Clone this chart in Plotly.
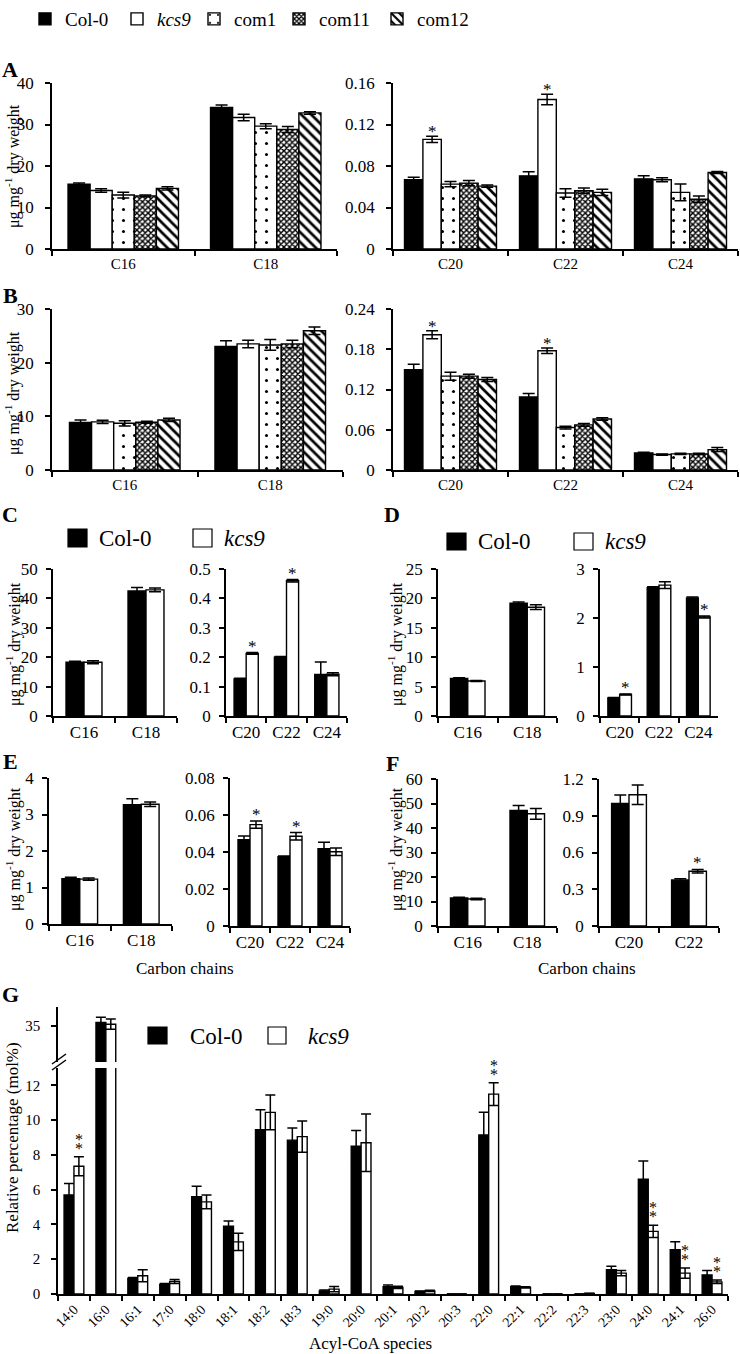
import plotly.graph_objects as go

W, H = 740, 1354
SERIF = "Liberation Serif"

GENO5 = ["Col-0", "<i>kcs9</i>", "com1", "com11", "com12"]
GENO2 = ["Col-0", "<i>kcs9</i>"]

# ---------------- data ----------------
# Panel A
A1_cats = ["C16", "C18"]
A1_mean = [[15.6, 34.1], [14.1, 31.7], [13.0, 29.6], [12.8, 28.8], [14.6, 32.8]]
A1_err = [[0.3, 0.6], [0.4, 0.8], [0.7, 0.6], [0.2, 0.7], [0.4, 0.3]]
A2_cats = ["C20", "C22", "C24"]
A2_mean = [[0.0667, 0.0705, 0.0676], [0.1057, 0.1441, 0.0667], [0.0625, 0.054, 0.0546],
           [0.0635, 0.0562, 0.048], [0.0606, 0.0546, 0.0737]]
A2_err = [[0.0025, 0.004, 0.003], [0.003, 0.005, 0.002], [0.0025, 0.004, 0.008],
          [0.0025, 0.0025, 0.003], [0.001, 0.003, 0.001]]
A2_sig = ["C20", "C22"]

# Panel B
B1_cats = ["C16", "C18"]
B1_mean = [[8.84, 23.0], [8.96, 23.5], [8.7, 23.3], [8.9, 23.5], [9.33, 25.95]]
B1_err = [[0.5, 1.1], [0.3, 0.7], [0.5, 1.0], [0.2, 0.7], [0.3, 0.7]]
B2_cats = ["C20", "C22", "C24"]
B2_mean = [[0.1497, 0.109, 0.0255], [0.2017, 0.1777, 0.023], [0.1399, 0.0633, 0.024],
           [0.1399, 0.0672, 0.024], [0.135, 0.076, 0.0304]]
B2_err = [[0.008, 0.005, 0.001], [0.006, 0.004, 0.001], [0.006, 0.002, 0.001],
          [0.003, 0.002, 0.001], [0.003, 0.002, 0.003]]
B2_sig = ["C20", "C22"]

# Panel C
C1_cats = ["C16", "C18"]
C1_mean = [[18.3, 42.5], [18.3, 42.9]]
C1_err = [[0.3, 1.2], [0.5, 0.6]]
C2_cats = ["C20", "C22", "C24"]
C2_mean = [[0.126, 0.2, 0.141], [0.213, 0.46, 0.142]]
C2_err = [[0.002, 0.002, 0.043], [0.003, 0.004, 0.005]]
C2_sig = ["C20", "C22"]

# Panel D
D1_cats = ["C16", "C18"]
D1_mean = [[6.4, 19.2], [5.95, 18.5]]
D1_err = [[0.1, 0.2], [0.1, 0.4]]
D2_cats = ["C20", "C22", "C24"]
D2_mean = [[0.37, 2.62, 2.41], [0.44, 2.67, 2.02]]
D2_err = [[0.01, 0.02, 0.02], [0.01, 0.07, 0.02]]
D2_sig = ["C20", "C24"]

# Panel E
E1_cats = ["C16", "C18"]
E1_mean = [[1.24, 3.27], [1.23, 3.28]]
E1_err = [[0.04, 0.16], [0.03, 0.06]]
E2_cats = ["C20", "C22", "C24"]
E2_mean = [[0.0467, 0.0375, 0.0418], [0.0548, 0.0485, 0.0401]]
E2_err = [[0.002, 0.0003, 0.0035], [0.002, 0.002, 0.002]]
E2_sig = ["C20", "C22"]

# Panel F
F1_cats = ["C16", "C18"]
F1_mean = [[11.4, 47.2], [11.0, 45.8]]
F1_err = [[0.3, 2.0], [0.3, 2.2]]
F2_cats = ["C20", "C22"]
F2_mean = [[1.0, 0.375], [1.072, 0.447]]
F2_err = [[0.07, 0.01], [0.08, 0.015]]
F2_sig = ["C22"]

# Panel G
G_cats = ["14:0", "16:0", "16:1", "17:0", "18:0", "18:1", "18:2", "18:3", "19:0", "20:0",
          "20:1", "20:2", "20:3", "22:0", "22:1", "22:2", "22:3", "23:0", "24:0", "24:1", "26:0"]
G_col0 = [5.7, 35.2, 0.9, 0.55, 5.6, 3.9, 9.45, 8.85, 0.18, 8.5,
          0.42, 0.14, 0.0, 9.15, 0.42, 0.0, 0.0, 1.4, 6.6, 2.55, 1.1]
G_col0_err = [0.65, 0.3, 0.05, 0.05, 0.6, 0.3, 1.15, 0.7, 0.05, 0.9,
              0.1, 0.03, 0.0, 1.3, 0.04, 0.0, 0.0, 0.2, 1.05, 0.45, 0.25]
G_kcs9 = [7.35, 35.1, 1.05, 0.72, 5.3, 3.0, 10.45, 9.05, 0.28, 8.7,
          0.38, 0.18, 0.0, 11.5, 0.38, 0.0, 0.03, 1.2, 3.6, 1.2, 0.7]
G_kcs9_err = [0.55, 0.3, 0.35, 0.12, 0.4, 0.5, 1.0, 0.9, 0.15, 1.65,
              0.06, 0.03, 0.0, 0.65, 0.03, 0.0, 0.01, 0.15, 0.35, 0.3, 0.1]
G_sig = ["14:0", "22:0", "24:0", "24:1", "26:0"]

# ---------------- styles ----------------
LINE = dict(color="black", width=1.4)
STYLES = [
    dict(color="black", line=LINE),
    dict(color="white", line=LINE),
    dict(color="white", line=LINE, pattern=dict(shape=".", size=11, solidity=0.06,
                                                fgcolor="black", bgcolor="white")),
    dict(color="white", line=LINE, pattern=dict(shape="x", size=4, solidity=0.6,
                                                fgcolor="black", bgcolor="white")),
    dict(color="white", line=LINE, pattern=dict(shape="\\", size=7, solidity=0.38,
                                                fgcolor="black", bgcolor="white")),
]

fig = go.Figure()
lay = dict(template="none", width=W, height=H, margin=dict(l=0, r=0, t=0, b=0, pad=0),
           paper_bgcolor="white", plot_bgcolor="white",
           font=dict(family=SERIF, color="black", size=15),
           barmode="overlay", showlegend=True)
annots = []
shapes = []
ax_n = [0]


def px_x(x):
    return x / W


def px_y(y):
    return 1 - y / H


def make_axes(xpx, ypx, cats, yrange, dtick, tickfont, catfont, standoff, catangle=0,
              tickvals=None):
    ax_n[0] += 1
    s = "" if ax_n[0] == 1 else str(ax_n[0])
    xr, yr = "x" + s, "y" + s
    lay["xaxis" + s] = dict(domain=[px_x(xpx[0]), px_x(xpx[1])], anchor=yr, type="category",
                            categoryorder="array", categoryarray=cats,
                            range=[-0.5, len(cats) - 0.5], tickson="boundaries",
                            ticks="outside", ticklen=5, tickwidth=1.5, tickcolor="black",
                            showline=True, linewidth=1.5, linecolor="black", showgrid=False,
                            zeroline=False, tickfont=dict(size=catfont), tickangle=catangle,
                            fixedrange=True, automargin=False)
    yd = dict(domain=[px_y(ypx[1]), px_y(ypx[0])], anchor=xr, range=yrange, ticks="outside",
              ticklen=5, tickwidth=1.5, tickcolor="black", showline=True, linewidth=1.5,
              linecolor="black", showgrid=False, zeroline=False, tickfont=dict(size=tickfont),
              ticklabelstandoff=standoff, fixedrange=True, automargin=False)
    if tickvals is not None:
        yd["tickvals"] = tickvals
    else:
        yd.update(tick0=0, dtick=dtick)
    lay["yaxis" + s] = yd
    return xr, yr


def add_bars(xr, yr, cats, means, errs, names, w, capw, legends=None):
    n = len(means)
    for k in range(n):
        tr = go.Bar(x=cats, y=means[k], width=w, offset=-n * w / 2 + k * w,
                    xaxis=xr, yaxis=yr, name=names[k], marker=STYLES[k],
                    error_y=dict(type="data", array=errs[k], color="black",
                                 thickness=1.5, width=capw),
                    showlegend=False, hoverinfo="skip")
        if legends is not None:
            tr.showlegend = True
            tr.legend = legends[k]
        fig.add_trace(tr)


def add_sig(xr, yr, cats, means, errs, w, sig, size=17, shifts=(-7,)):
    n = len(means)
    for c in sig:
        i = cats.index(c)
        for sh in shifts:
            annots.append(dict(x=i - n * w / 2 + 1.5 * w, y=means[1][i] + errs[1][i], xref=xr,
                               yref=yr, text="*", showarrow=False, yanchor="bottom",
                               xanchor="center", font=dict(size=size, color="black"),
                               yshift=sh))


def ytitle(x, y, text, size=16):
    annots.append(dict(x=px_x(x), y=px_y(y), xref="paper", yref="paper", text=text,
                       textangle=-90, showarrow=False, font=dict(size=size, color="black"),
                       xanchor="center", yanchor="middle"))


def label(x, y, text, size=16, bold=False, xanchor="center"):
    annots.append(dict(x=px_x(x), y=px_y(y), xref="paper", yref="paper",
                       text=("<b>%s</b>" % text) if bold else text, showarrow=False,
                       font=dict(size=size, color="black"), xanchor=xanchor,
                       yanchor="middle"))


def square(x0, y0, x1, y1, fill):
    shapes.append(dict(type="rect", xref="paper", yref="paper", x0=px_x(x0), x1=px_x(x1),
                       y0=px_y(y1), y1=px_y(y0), fillcolor=fill,
                       line=dict(color="black", width=1.2)))


UNIT = "μg mg<sup>-1</sup> dry weight"

# ---------------- Panel A ----------------
xr, yr = make_axes((52, 337), (83, 249), A1_cats, [0, 40], 10, 17, 15, 8)
add_bars(xr, yr, A1_cats, A1_mean, A1_err, GENO5, 0.155, 6,
         legends=["legend", "legend2", "legend3", "legend4", "legend5"])
xr, yr = make_axes((393, 738), (83, 249), A2_cats, [0, 0.16], 0.04, 17, 15, 8)
add_bars(xr, yr, A2_cats, A2_mean, A2_err, GENO5, 0.16, 6)
add_sig(xr, yr, A2_cats, A2_mean, A2_err, 0.16, A2_sig)

# ---------------- Panel B ----------------
xr, yr = make_axes((52, 343), (309, 470), B1_cats, [0, 30], 10, 17, 15, 8)
add_bars(xr, yr, B1_cats, B1_mean, B1_err, GENO5, 0.152, 6)
xr, yr = make_axes((393, 738), (309, 470), B2_cats, [0, 0.24], 0.06, 17, 15, 8)
add_bars(xr, yr, B2_cats, B2_mean, B2_err, GENO5, 0.16, 6)
add_sig(xr, yr, B2_cats, B2_mean, B2_err, 0.16, B2_sig)

# ---------------- Panels C-F ----------------
small = [
    ((53, 177), (569, 716), C1_cats, C1_mean, C1_err, [0, 50], 10, None),
    ((226, 347), (569, 716), C2_cats, C2_mean, C2_err, [0, 0.5], 0.1, C2_sig),
    ((438, 557), (569, 716), D1_cats, D1_mean, D1_err, [0, 25], 5, None),
    ((600, 718), (569, 716), D2_cats, D2_mean, D2_err, [0, 3], 1, D2_sig),
    ((49, 172), (778, 924), E1_cats, E1_mean, E1_err, [0, 4], 1, None),
    ((230, 350), (778, 926), E2_cats, E2_mean, E2_err, [0, 0.08], 0.02, E2_sig),
    ((438, 557), (779, 926), F1_cats, F1_mean, F1_err, [0, 60], 10, None),
    ((599, 719), (779, 926), F2_cats, F2_mean, F2_err, [0, 1.2], 0.3, F2_sig),
]
for xpx, ypx, cats, means, errs, yrange, dt, sig in small:
    xr, yr = make_axes(xpx, ypx, cats, yrange, dt, 17, 17, 5)
    w = 0.3 if len(cats) == 3 else 0.29
    add_bars(xr, yr, cats, means, errs, GENO2, w, 6)
    if sig:
        add_sig(xr, yr, cats, means, errs, w, sig, shifts=(-5,))

# ---------------- Panel G ----------------
G_mean = [G_col0, G_kcs9]
G_err = [G_col0_err, G_kcs9_err]
xg, yg = make_axes((58, 728), (1068, 1294), G_cats, [0, 13], 2, 15, 14, 8, catangle=-45,
                   tickvals=[0, 2, 4, 6, 8, 10, 12])
add_bars(xg, yg, G_cats, G_mean, G_err, GENO2, 0.31, 5)
add_sig(xg, yg, G_cats, G_mean, G_err, 0.31, G_sig, size=16, shifts=(-2, 7))
ax_n[0] += 1
s = str(ax_n[0])
lay["yaxis" + s] = dict(domain=[px_y(1062), px_y(1007)], anchor=xg, range=[32.9, 36.1],
                        tickvals=[35], ticks="outside", ticklen=5, tickwidth=1.5,
                        tickcolor="black", showline=True, linewidth=1.5, linecolor="black",
                        showgrid=False, zeroline=False, tickfont=dict(size=15),
                        ticklabelstandoff=8, fixedrange=True, automargin=False)
add_bars(xg, "y" + s, G_cats, G_mean, G_err, GENO2, 0.31, 5)
# axis break marks
for dy in (0, 6):
    shapes.append(dict(type="line", xref="paper", yref="paper", x0=px_x(52),
                       y0=px_y(1064 + dy), x1=px_x(66), y1=px_y(1054 + dy),
                       line=dict(color="black", width=1.5)))

# ---------------- Legends ----------------
leg_x = [38, 130, 207, 292, 390]
for i, lx in enumerate(leg_x):
    key = "legend" if i == 0 else "legend%d" % (i + 1)
    lay[key] = dict(x=px_x(lx - 13), y=1, xanchor="left", yanchor="top",
                    font=dict(size=19, family=SERIF, color="black"),
                    bgcolor="rgba(0,0,0,0)", itemwidth=30, orientation="h")

# C legend
square(68, 529, 87, 547, "black")
label(97, 538, "Col-0", 23, xanchor="left")
square(193, 529, 212, 547, "white")
label(222, 538, "<i>kcs9</i>", 23, xanchor="left")
# D legend
square(447, 533, 466, 550, "black")
label(476, 541, "Col-0", 23, xanchor="left")
square(574, 533, 593, 550, "white")
label(603, 541, "<i>kcs9</i>", 23, xanchor="left")
# G legend
square(148, 1027, 167, 1044, "black")
label(188, 1036, "Col-0", 23, xanchor="left")
square(268, 1027, 286, 1044, "white")
label(306, 1036, "<i>kcs9</i>", 23, xanchor="left")

# ---------------- titles & letters ----------------
ytitle(12, 166, UNIT)
ytitle(12, 393, UNIT)
ytitle(13, 644, UNIT)
ytitle(395, 644, UNIT)
ytitle(13, 849, UNIT)
ytitle(395, 849, UNIT)
ytitle(12, 1138, "Relative percentage (mol%)", 17)
label(185, 968, "Carbon chains", 17)
label(587, 968, "Carbon chains", 17)
label(370, 1343, "Acyl-CoA species", 17)

for txt, x, y in [("A", 10, 69), ("B", 10, 295), ("C", 10, 514), ("D", 392, 514),
                  ("E", 10, 762), ("F", 392, 763), ("G", 10, 994)]:
    label(x, y, txt, 22, bold=True)

lay["annotations"] = annots
lay["shapes"] = shapes
fig.update_layout(**lay)
fig.write_html("out.html", config={"displayModeBar": False},
               post_script="document.body.style.margin='0px';")
